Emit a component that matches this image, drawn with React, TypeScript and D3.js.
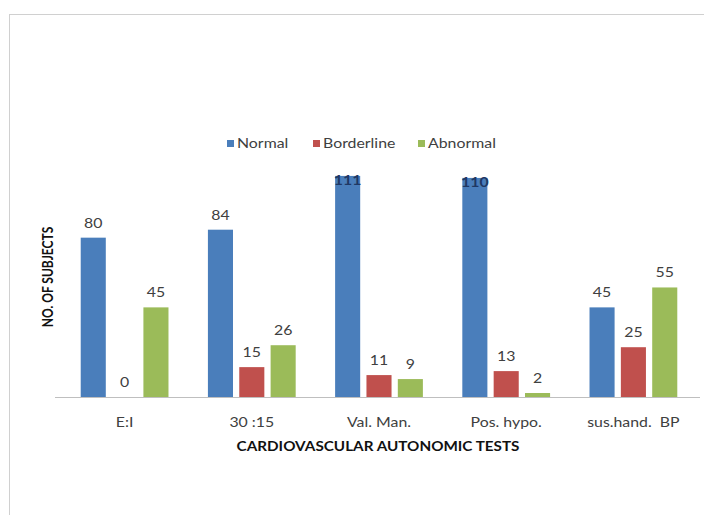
import * as d3 from 'd3'
import { useEffect, useRef } from 'react'

const categories = ['E:I', '30 :15', 'Val. Man.', 'Pos. hypo.', 'sus.hand.  BP']
const seriesNames = ['Normal', 'Borderline', 'Abnormal']
const normal = [80, 84, 111, 110, 45]
const borderline = [0, 15, 11, 13, 25]
const abnormal = [45, 26, 9, 2, 55]
const seriesColors = ['#4a7ebb', '#c0504d', '#9bbb59']

const FONT = 'Lato, "Open Sans", sans-serif'
// the source image is a bit stretched horizontally
const SX = 1.22

export default function App() {
  const ref = useRef<SVGSVGElement>(null)

  useEffect(() => {
    if (!ref.current) return
    const svg = d3.select(ref.current)
    svg.selectAll('*').remove()

    const width = 704
    const height = 515
    svg.attr('width', width).attr('height', height)

    // chart area border (cut off on right and bottom like the screenshot)
    svg
      .append('rect')
      .attr('x', 9.5)
      .attr('y', 14.5)
      .attr('width', 720)
      .attr('height', 520)
      .attr('fill', '#fff')
      .attr('stroke', '#d0d0d0')

    const values = [normal, borderline, abnormal]
    const data = categories.map((c, i) => ({
      cat: c,
      vals: seriesNames.map((s, j) => ({ key: s, value: values[j][i], idx: j })),
    }))

    const x0 = d3
      .scaleBand()
      .domain(categories)
      .range([61, 697])
      .paddingInner(0.31)
      .paddingOuter(0.155)

    const x1 = d3
      .scaleBand()
      .domain(seriesNames)
      .range([0, x0.bandwidth()])
      .paddingInner(0.2)
      .paddingOuter(0)

    const y = d3.scaleLinear().domain([0, 120]).range([397, 158])

    // stretched horizontal text helper
    const addText = (
      parent: d3.Selection<any, any, any, any>,
      x: number,
      yy: number,
      txt: string,
      opts: { size?: number; weight?: string; fill?: string; anchor?: string } = {}
    ) => {
      const g = parent.append('g').attr('transform', `translate(${x},${yy})`)
      g.append('text')
        .attr('transform', `scale(${SX},1)`)
        .attr('text-anchor', opts.anchor || 'middle')
        .style('font-family', FONT)
        .style('font-size', `${opts.size || 13}px`)
        .style('font-weight', opts.weight || 'normal')
        .style('fill', opts.fill || '#404040')
        .style('white-space', 'pre')
        .text(txt)
      return g
    }

    // Bars
    const groups = svg
      .selectAll('.grp')
      .data(data)
      .enter()
      .append('g')
      .attr('class', 'grp')
      .attr('transform', d => `translate(${x0(d.cat)},0)`)

    groups
      .selectAll('rect')
      .data(d => d.vals)
      .enter()
      .append('rect')
      .attr('x', d => x1(d.key)!)
      .attr('y', d => y(d.value))
      .attr('width', x1.bandwidth())
      .attr('height', d => y(0) - y(d.value))
      .attr('fill', d => seriesColors[d.idx])

    // Value labels
    data.forEach(g => {
      g.vals.forEach(d => {
        const cx = x0(g.cat)! + x1(d.key)! + x1.bandwidth() / 2
        if (d.value > 100) {
          addText(svg, cx, y(d.value) + 9, String(d.value), {
            fill: '#1f3864',
            weight: 'bold',
          })
        } else {
          addText(svg, cx, y(d.value) - 10, String(d.value))
        }
      })
    })

    // X axis line
    svg
      .append('line')
      .attr('x1', 55)
      .attr('x2', 700)
      .attr('y1', y(0) + 0.5)
      .attr('y2', y(0) + 0.5)
      .attr('stroke', '#bfbfbf')
      .attr('stroke-width', 1)

    // Category labels
    categories.forEach(c => {
      addText(svg, x0(c)! + x0.bandwidth() / 2, 427, c)
    })

    // Axis titles
    addText(svg, 378, 451, 'CARDIOVASCULAR AUTONOMIC TESTS', {
      size: 12.5,
      weight: 'bold',
      fill: '#111',
    })

    svg
      .append('text')
      .attr('transform', `translate(53,277) rotate(-90) scale(1,${SX})`)
      .attr('text-anchor', 'middle')
      .style('font-family', FONT)
      .style('font-size', '12px')
      .style('font-weight', 'bold')
      .style('fill', '#111')
      .text('NO. OF SUBJECTS')

    // Legend
    const legendX = [227, 313, 418]
    seriesNames.forEach((s, i) => {
      svg
        .append('rect')
        .attr('x', legendX[i])
        .attr('y', 140)
        .attr('width', 7)
        .attr('height', 7)
        .attr('fill', seriesColors[i])
      addText(svg, legendX[i] + 10, 148, s, { anchor: 'start' })
    })
  }, [])

  return (
    <svg
      ref={ref}
      style={{ position: 'absolute', left: 0, top: 0, display: 'block' }}
    ></svg>
  )
}
